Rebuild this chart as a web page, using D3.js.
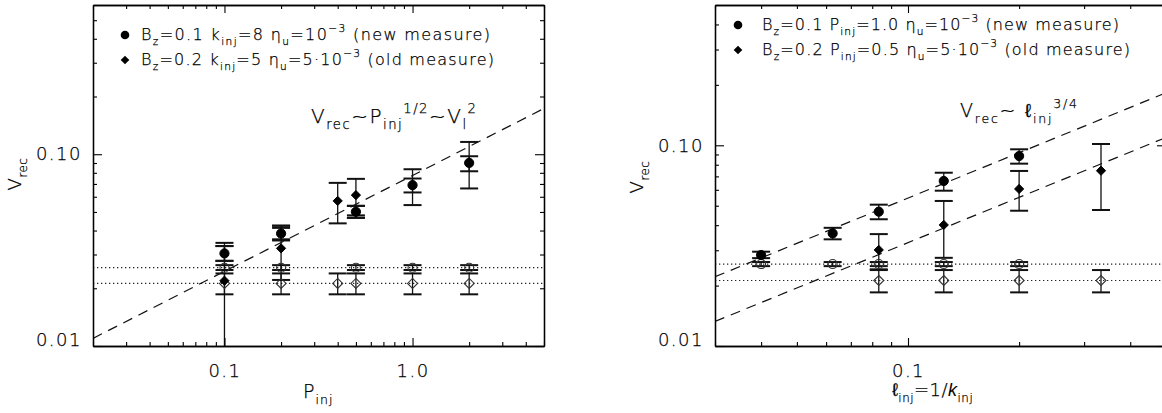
<!DOCTYPE html>
<html><head><meta charset="utf-8">
<script src="https://cdn.jsdelivr.net/npm/d3@7"></script>
<style>
body{margin:0;background:#fff}
text{font-family:"DejaVu Sans",sans-serif;font-weight:200;fill:#000;stroke:#000;stroke-width:0.25px}
</style>
</head><body>
<svg id="c" width="1162" height="413"></svg>
<script>
// ---------------- DATA ----------------
// Left panel: x = P_inj
const leftNewP   = [0.1, 0.2, 0.5, 1.0, 2.0];
const leftNewV   = [0.0304, 0.0386, 0.0501, 0.0690, 0.0901];
const leftNewLo1 = [0.0278, 0.0360, 0.0466, 0.0632, 0.0815];
const leftNewHi1 = [0.0332, 0.0413, 0.0538, 0.0747, 0.0976];
const leftNewLo2 = [0.0278, 0.0355, 0.0466, 0.0543, 0.0663];
const leftNewHi2 = [0.0345, 0.0424, 0.0538, 0.0835, 0.1159];
const leftOldP   = [0.1, 0.2, 0.4, 0.5];
const leftOldV   = [0.0219, 0.0323, 0.0571, 0.0612];
const leftOldLo  = [0.005, 0.0221, 0.0436, 0.0480];
const leftOldHi  = [0.0332, 0.0424, 0.0709, 0.0744];
const leftLamNewP = [0.1, 0.2, 0.5, 1.0, 2.0];
const leftLamOldP = [0.1, 0.2, 0.4, 0.5, 1.0, 2.0];
const lamNewV = 0.0256, lamNewLo = 0.0249, lamNewHi = 0.0264;
const lamOldV = 0.0212, lamOldLo = 0.0186, lamOldHi = 0.0239;
const leftFitA = 0.0775, leftFitExp = 0.5;

// Right panel: x = l_inj = 1/k_inj
const rightNewK  = [25, 16, 12, 8, 5];
const rightNewV  = [0.0284, 0.0364, 0.0467, 0.0664, 0.0884];
const rightNewLo = [0.0274, 0.0340, 0.0428, 0.0594, 0.0810];
const rightNewHi = [0.0295, 0.0388, 0.0506, 0.0730, 0.0955];
const rightOldK  = [12, 8, 5, 3];
const rightOldV  = [0.0301, 0.0401, 0.0606, 0.0747];
const rightOldLo = [0.0241, 0.0275, 0.0472, 0.0476];
const rightOldHi = [0.0361, 0.0528, 0.0745, 0.1015];
const rightLamNewK = [25, 16, 12, 8, 5];
const rightLamOldK = [12, 8, 5, 3];
const rLamNewLo = 0.0250, rLamNewHi = 0.0262;
const rLamOldLo = 0.0185, rLamOldHi = 0.0239;
const rightFitA = [0.307, 0.184], rightFitExp = 0.75;

// tick labels
const yTickVals = [0.01, 0.1], yTickLabels = ["0.01", "0.10"];
const leftXTickVals = [0.1, 1.0], leftXTickLabels = ["0.1", "1.0"];
const rightXTickVals = [0.1], rightXTickLabels = ["0.1"];

// ---------------- DRAW ----------------
const svg = d3.select("#c");
svg.append("rect").attr("width",1162).attr("height",413).attr("fill","#fff");
const TOP = 5, BOT = 346;

function rich(parent, x, y, str, size, len, ls){
  const t = parent.append("text").attr("x",x).attr("y",y).attr("font-size",size).style("white-space","pre");
  if(ls) t.style("letter-spacing", ls + "px");
  const re = /([_^])\{([^}]*)\}|\*([^*]*)\*|([^_^*]+)/g;
  let m, shift = 0;
  while((m = re.exec(str))){
    if(m[1]){
      const d = m[1] === "_" ? 0.32*size : -0.48*size;
      t.append("tspan").attr("font-size", size*0.66).attr("dy", d - shift).text(m[2]);
      shift = d;
    } else {
      const s = t.append("tspan").text(m[3] !== undefined ? m[3] : m[4]);
      if(m[3] !== undefined) s.attr("font-style","italic").attr("font-family","Liberation Sans").attr("font-weight",400).style("stroke-width","0");
      if(shift !== 0){ s.attr("dy", -shift); shift = 0; }
    }
  }
  if(len) t.attr("textLength", len).attr("lengthAdjust","spacing");
  return t;
}

function diamondPath(s){ return `M0,${-s}L${s},0L0,${s}L${-s},0Z`; }

function panel(cfg){
  const x = d3.scaleLog().domain(cfg.xDomain).range(cfg.xRange);
  const y = d3.scaleLog().domain(cfg.yDomain).range([BOT, TOP]);
  const [x0, x1] = cfg.xRange;
  const id = cfg.id;
  svg.append("clipPath").attr("id", id).append("rect")
    .attr("x", x0).attr("y", TOP).attr("width", x1 - x0).attr("height", BOT - TOP);
  const plot = svg.append("g").attr("clip-path", `url(#${id})`);

  cfg.hlines.forEach(v => {
    plot.append("line").attr("x1", x0).attr("x2", x1).attr("y1", y(v)).attr("y2", y(v))
      .attr("stroke", "#222").attr("stroke-width", 1.2).attr("stroke-dasharray", "1.3,2.7");
  });
  cfg.fits.forEach(A => {
    const xs = x.domain();
    plot.append("line")
      .attr("x1", x(xs[0])).attr("y1", y(A*Math.pow(xs[0], cfg.fitExp)))
      .attr("x2", x(xs[1])).attr("y2", y(A*Math.pow(xs[1], cfg.fitExp)))
      .attr("stroke", "#111").attr("stroke-width", 1.2).attr("stroke-dasharray", "10,7");
  });
  function ebar(xs, lo, hi, capW, lw){
    xs.forEach((xv, i) => {
      const g = plot.append("g").attr("stroke", "#111");
      g.append("line").attr("x1", x(xv)).attr("x2", x(xv)).attr("y1", y(lo[i])).attr("y2", y(hi[i])).attr("stroke-width", lw);
      [lo[i], hi[i]].forEach(v => g.append("line").attr("x1", x(xv)-capW).attr("x2", x(xv)+capW)
        .attr("y1", y(v)).attr("y2", y(v)).attr("stroke-width", 2));
    });
  }
  cfg.errs.forEach(e => ebar(e.x, e.lo, e.hi, 9, 1.3));
  cfg.marks.forEach(mk => {
    mk.x.forEach((xv, i) => {
      const v = Array.isArray(mk.v) ? mk.v[i] : mk.v;
      const cx = x(xv), cy = y(v);
      if(mk.type === "circle")
        plot.append("circle").attr("cx", cx).attr("cy", cy).attr("r", mk.open ? 4.5 : 4.6)
          .attr("fill", mk.open ? "none" : "#000").attr("stroke", mk.open ? "#333" : "#000").attr("stroke-width", mk.open ? 1.1 : 1);
      else
        plot.append("path").attr("d", diamondPath(mk.open ? 5 : 4.6)).attr("transform", `translate(${cx},${cy})`)
          .attr("fill", mk.open ? "none" : "#000").attr("stroke", mk.open ? "#333" : "#000").attr("stroke-width", mk.open ? 1.1 : 1);
    });
  });

  const styleAx = g => { g.attr("color", "#000"); g.select(".domain").attr("stroke-width", 1.3);
    g.selectAll("line").attr("stroke-width", 1.1);
    g.selectAll("text").attr("font-family", '"DejaVu Sans",sans-serif').attr("font-weight", 200).attr("font-size", 18)
      .attr("fill", "#000").style("letter-spacing", "1.5px"); };
  const xMinor = x.ticks().filter(t => !cfg.xMajor.some(m => Math.abs(m - t) < 1e-9));
  const yMinor = y.ticks().filter(t => !yTickVals.some(m => Math.abs(m - t) < 1e-9));

  svg.append("g").attr("transform", `translate(0,${BOT})`)
    .call(d3.axisBottom(x).tickValues(cfg.xMajor).tickSize(-8).tickSizeOuter(0).tickPadding(18)
      .tickFormat((d, i) => cfg.xLabels[i])).call(styleAx);
  svg.append("g").attr("transform", `translate(0,${BOT})`)
    .call(d3.axisBottom(x).tickValues(xMinor).tickSize(-4).tickSizeOuter(0).tickFormat("")).call(styleAx);
  svg.append("g").attr("transform", `translate(0,${TOP})`)
    .call(d3.axisTop(x).tickValues(cfg.xMajor).tickSize(-8).tickSizeOuter(0).tickFormat("")).call(styleAx);
  svg.append("g").attr("transform", `translate(0,${TOP})`)
    .call(d3.axisTop(x).tickValues(xMinor).tickSize(-4).tickSizeOuter(0).tickFormat("")).call(styleAx);

  const yl = svg.append("g").attr("transform", `translate(${x0},0)`)
    .call(d3.axisLeft(y).tickValues(yTickVals).tickSize(-9).tickSizeOuter(0).tickPadding(11)
      .tickFormat((d, i) => yTickLabels[i])).call(styleAx);
  yl.selectAll("text").filter(d => d === 0.01).attr("dy", "-0.05em");
  svg.append("g").attr("transform", `translate(${x0},0)`)
    .call(d3.axisLeft(y).tickValues(yMinor).tickSize(-4).tickSizeOuter(0).tickFormat("")).call(styleAx);
  svg.append("g").attr("transform", `translate(${x1},0)`)
    .call(d3.axisRight(y).tickValues(yTickVals).tickSize(-9).tickSizeOuter(0).tickFormat("")).call(styleAx);
  svg.append("g").attr("transform", `translate(${x1},0)`)
    .call(d3.axisRight(y).tickValues(yMinor).tickSize(-4).tickSizeOuter(0).tickFormat("")).call(styleAx);
  return {x, y};
}

panel({
  id: "cl", xDomain: [0.02, 5], xRange: [93, 544], yDomain: [0.01, 0.6],
  xMajor: leftXTickVals, xLabels: leftXTickLabels,
  hlines: [lamNewV, lamOldV], fits: [leftFitA], fitExp: leftFitExp,
  errs: [
    {x: leftOldP, lo: leftOldLo, hi: leftOldHi},
    {x: leftNewP, lo: leftNewLo2, hi: leftNewHi2},
    {x: leftNewP, lo: leftNewLo1, hi: leftNewHi1},
    {x: leftLamNewP, lo: leftLamNewP.map(() => lamNewLo), hi: leftLamNewP.map(() => lamNewHi)},
    {x: leftLamOldP, lo: leftLamOldP.map(() => lamOldLo), hi: leftLamOldP.map(() => lamOldHi)}
  ],
  marks: [
    {type: "circle", x: leftLamNewP, v: lamNewV, open: true},
    {type: "diamond", x: leftLamOldP, v: lamOldV, open: true},
    {type: "diamond", x: leftOldP, v: leftOldV},
    {type: "circle", x: leftNewP, v: leftNewV}
  ]
});

const inv = k => 1 / k;
panel({
  id: "cr", xDomain: [0.03, 0.5], xRange: [715, 1166], yDomain: [0.01, 0.5],
  xMajor: rightXTickVals, xLabels: rightXTickLabels,
  hlines: [lamNewV, lamOldV], fits: rightFitA, fitExp: rightFitExp,
  errs: [
    {x: rightOldK.map(inv), lo: rightOldLo, hi: rightOldHi},
    {x: rightNewK.map(inv), lo: rightNewLo, hi: rightNewHi},
    {x: rightLamNewK.map(inv), lo: rightLamNewK.map(() => rLamNewLo), hi: rightLamNewK.map(() => rLamNewHi)},
    {x: rightLamOldK.map(inv), lo: rightLamOldK.map(() => rLamOldLo), hi: rightLamOldK.map(() => rLamOldHi)}
  ],
  marks: [
    {type: "circle", x: rightLamNewK.map(inv), v: lamNewV, open: true},
    {type: "diamond", x: rightLamOldK.map(inv), v: lamOldV, open: true},
    {type: "diamond", x: rightOldK.map(inv), v: rightOldV},
    {type: "circle", x: rightNewK.map(inv), v: rightNewV}
  ]
});

// Legends
const L = svg.append("g");
L.append("circle").attr("cx", 125).attr("cy", 35).attr("r", 4.3).attr("fill", "#000");
L.append("path").attr("d", diamondPath(4.3)).attr("transform", "translate(125,60)").attr("fill", "#000");
rich(L, 141, 40, "B_{z}=0.1 k_{inj}=8 η_{u}=10^{−3} (new measure)", 16, 349);
rich(L, 141, 65, "B_{z}=0.2 k_{inj}=5 η_{u}=5·10^{−3} (old measure)", 16, 353);

L.append("circle").attr("cx", 738).attr("cy", 25).attr("r", 4.3).attr("fill", "#000");
L.append("path").attr("d", diamondPath(4.3)).attr("transform", "translate(738,50)").attr("fill", "#000");
rich(L, 762, 30, "B_{z}=0.1 P_{inj}=1.0 η_{u}=10^{−3} (new measure)", 16, 357);
rich(L, 762, 55, "B_{z}=0.2 P_{inj}=0.5 η_{u}=5·10^{−3} (old measure)", 16, 368);

// Annotations
rich(L, 311, 123, "V_{rec}~P_{inj}^{1/2}~V_{l}^{2}", 20, 165);
rich(L, 960, 117, "V_{rec}~ ℓ_{inj}^{3/4}", 19, 117);

// Axis titles
rich(L, 303, 398, "P_{inj}", 19, null, 1);
rich(L, 892, 396, "ℓ_{inj}=1/*k*_{inj}", 18, null, 0.5);
rich(L, 0, 0, "V_{rec}", 18, null, 0.5).attr("text-anchor", "middle").attr("transform", "translate(21,174) rotate(-90)");
rich(L, 0, 0, "V_{rec}", 18, null, 0.5).attr("text-anchor", "middle").attr("transform", "translate(643,177) rotate(-90)");
</script>
</body></html>
